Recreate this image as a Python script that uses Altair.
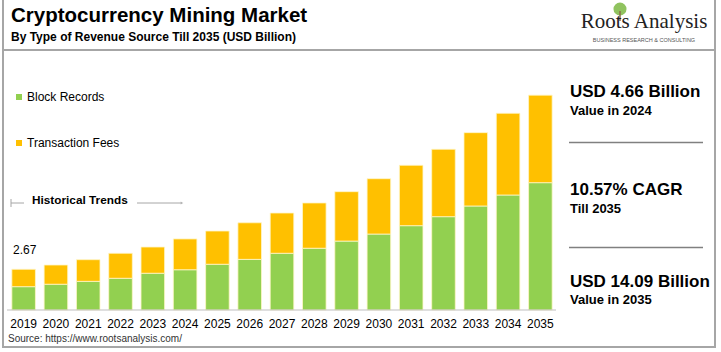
import altair as alt
import pandas as pd

years = [str(y) for y in range(2019, 2036)]
block_records = [1.53, 1.69, 1.88, 2.08, 2.41, 2.64, 3.00, 3.32, 3.72, 4.05, 4.52, 4.98, 5.53, 6.12, 6.82, 7.54, 8.35]
transaction_fees = [1.14, 1.26, 1.42, 1.64, 1.72, 2.02, 2.18, 2.40, 2.64, 2.97, 3.24, 3.63, 3.96, 4.42, 4.81, 5.36, 5.74]
series = ["Block Records", "Transaction Fees"]
colors = ["#92D050", "#FFC000"]
first_label = "2.67"

rows = []
for i, y in enumerate(years):
    rows.append({"year": y, "series": series[0], "value": block_records[i], "ord": 0})
    rows.append({"year": y, "series": series[1], "value": transaction_fees[i], "ord": 1})
df = pd.DataFrame(rows)
ydf = pd.DataFrame({"year": years})

FONT = "Liberation Sans"
one = alt.Data(values=[{"a": 1}])

xscale = alt.Scale(domain=years, range=[7, 557], paddingInner=0.27, paddingOuter=0.15)
yscale = alt.Scale(domain=[0, 310 / 15.25], range=[310, 0], zero=True, nice=False)

bars = alt.Chart(df).mark_bar(stroke="#FFF6C8", strokeWidth=0.8).encode(
    x=alt.X("year:N", scale=xscale, axis=None),
    y=alt.Y("value:Q", stack="zero", scale=yscale, axis=None),
    color=alt.Color("series:N", scale=alt.Scale(domain=series, range=colors), legend=None),
    order=alt.Order("ord:Q", sort="ascending"),
)

year_labels = alt.Chart(ydf).mark_text(font=FONT, fontSize=12, color="#000000", baseline="middle").encode(
    x=alt.X("year:N", scale=xscale, axis=None),
    y=alt.value(324),
    text="year:N",
)


def txt(s, x, y, size, bold=False, color="#000000", font=FONT, align="left"):
    return alt.Chart(one).mark_text(
        text=s, font=font, fontSize=size, fontWeight="bold" if bold else "normal",
        color=color, align=align, baseline="middle",
    ).encode(x=alt.value(x), y=alt.value(y))


def rule(x1, x2, y1, y2, color="#A6A6A6", w=1.0):
    return alt.Chart(one).mark_rule(color=color, strokeWidth=w).encode(
        x=alt.value(x1), x2=alt.value(x2), y=alt.value(y1), y2=alt.value(y2)
    )


def square(x, y, color):
    return alt.Chart(one).mark_square(size=36, color=color, opacity=1, filled=True).encode(
        x=alt.value(x), y=alt.value(y)
    )


layers = [
    bars,
    year_labels,
    rule(7, 556, 310, 310, "#BFBFBF", 1),
    # frame
    rule(3, 3, 0, 348, "#A6A6A6", 2),
    rule(715, 715, 0, 348, "#A6A6A6", 2),
    rule(3, 715, 347, 347, "#A6A6A6", 2),
    rule(3, 715, 50, 50, "#A6A6A6", 2),
    # titles
    txt("Cryptocurrency Mining Market", 11, 16, 20.5, True),
    txt("By Type of Revenue Source Till 2035 (USD Billion)", 11, 37, 12, True),
    # logo
    alt.Chart(one).mark_point(filled=True, size=170, color="#7DB843", opacity=0.85, shape="circle").encode(
        x=alt.value(620), y=alt.value(9)),
    rule(620, 620, 11, 21, "#8B6B4A", 1.5),
    txt("Roots Analysis", 644, 22, 21, False, "#222222", "Liberation Serif", "center"),
    txt("BUSINESS RESEARCH & CONSULTING", 644, 40, 5.5, False, "#555555", FONT, "center"),
    # legend
    square(19, 97, colors[0]),
    txt(series[0], 27, 97, 12),
    square(19, 143, colors[1]),
    txt(series[1], 27, 143, 12),
    # historical trends
    rule(11, 11, 199, 207, "#A6A6A6", 1),
    rule(11, 24, 203, 203, "#A6A6A6", 1),
    txt("Historical Trends", 32, 200, 11.8, True),
    rule(137, 182, 203, 203, "#A6A6A6", 1),
    alt.Chart(one).mark_point(shape="triangle-right", size=10, filled=True, color="#A6A6A6").encode(
        x=alt.value(182), y=alt.value(203)),
    txt(first_label, 13, 250, 12),
    # right panel
    txt("USD 4.66 Billion", 570, 92, 17, True),
    txt("Value in 2024", 570, 111, 13, True),
    rule(569, 703, 142.5, 142.5, "#808080", 1.5),
    txt("10.57% CAGR", 570, 190, 17, True),
    txt("Till 2035", 570, 209, 13, True),
    rule(569, 703, 247.5, 247.5, "#808080", 1.5),
    txt("USD 14.09 Billion", 570, 282, 17, True),
    txt("Value in 2035", 570, 300, 13, True),
    # source
    txt("Source: https://www.rootsanalysis.com/", 8, 339, 10, False, "#333333"),
]

chart = alt.layer(*layers).properties(
    width=721, height=352, padding=0, autosize=alt.AutoSizeParams(type="none"), background="white"
).configure_view(stroke=None)

chart.save("out.html", embed_options={"renderer": "svg", "actions": False})
